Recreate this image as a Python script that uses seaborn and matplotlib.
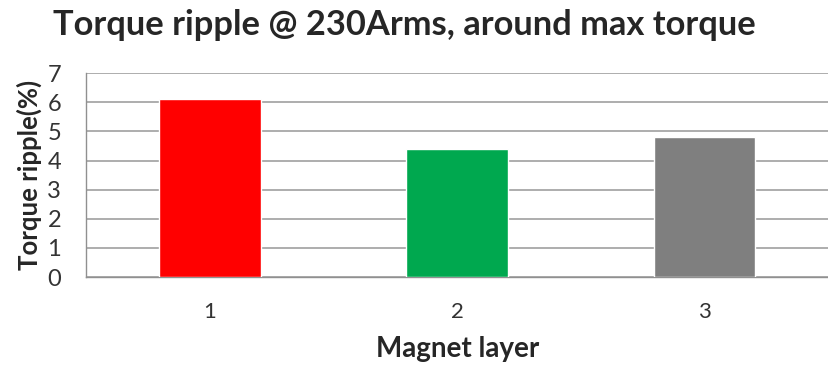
import pandas as pd
import matplotlib.pyplot as plt
import seaborn as sns

# data
layers = ['1', '2', '3']
ripple = [6.1, 4.4, 4.8]
bar_colors = ['#FF0000', '#00A84F', '#7F7F7F']

df = pd.DataFrame({'layer': layers, 'ripple': ripple})

sns.set_style('white')
plt.rcParams['font.family'] = ['Lato', 'DejaVu Sans']

fig = plt.figure(figsize=(8.29, 3.73), dpi=100)
ax = fig.add_axes([0.104, 0.257, 0.895, 0.547])

sns.barplot(data=df, x='layer', y='ripple', hue='layer', palette=bar_colors,
            width=0.41, legend=False, saturation=1, ax=ax, zorder=3)

ax.set_xlim(-0.5, 2.5)
ax.set_ylim(0, 7)
ax.set_yticks(range(0, 8))
ax.yaxis.grid(True, color='#A0A0A0', linewidth=1.2, zorder=0)
ax.set_axisbelow(True)

for side in ['top', 'right']:
    ax.spines[side].set_visible(False)
for side in ['left', 'bottom']:
    ax.spines[side].set_color('#909090')
    ax.spines[side].set_linewidth(1.0)

# category separators as ticks under the x axis
ax.set_xticks([0.5, 1.5], minor=True)
ax.tick_params(axis='x', which='minor', length=6, width=1, color='#909090', direction='out')
ax.tick_params(axis='x', which='major', length=0, labelsize=16, pad=18, colors='#333333')
ax.tick_params(axis='y', length=5, width=1, color='#909090', direction='out',
               labelsize=17, colors='#333333', pad=13)

ax.set_xlabel('Magnet layer', fontsize=20, fontweight='bold', labelpad=10)
ax.set_ylabel('Torque ripple(%)', fontsize=18.5, fontweight='bold', labelpad=4)
fig.text(0.064, 0.906, 'Torque ripple @ 230Arms, around max torque',
         fontsize=24.8, fontweight='bold', ha='left', va='baseline')

plt.savefig('out.png', dpi=100)
